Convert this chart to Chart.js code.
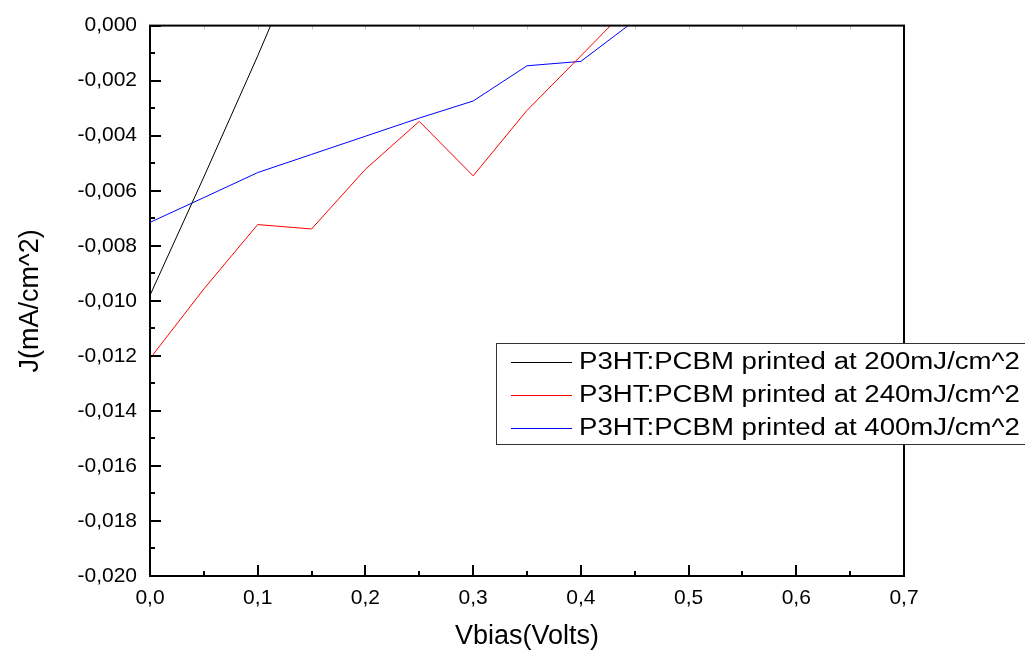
<!DOCTYPE html>
<html lang="en">
<head>
  <meta charset="UTF-8" />
  <title>J vs Vbias</title>
  <script src="https://cdn.jsdelivr.net/npm/chart.js"></script>
  <style>
    html, body { margin: 0; padding: 0; background: #fff; }
    #wrap { width: 1025px; height: 656px; }
  </style>
</head>
<body>
  <div id="wrap"><canvas id="jvChart" width="1025" height="656"></canvas></div>
  <script>
    // Data
    const vbias = [0, 0.05, 0.1, 0.15, 0.2, 0.25, 0.3, 0.35, 0.4, 0.45];
    const j200 = [-0.0098, -0.0055, -0.0011, 0.0035, null, null, null, null, null, null];
    const j240 = [-0.0121, -0.00957, -0.00723, -0.00739, -0.00522, -0.00348, -0.00546, -0.00308, -0.0011, 0.0009];
    const j400 = [-0.00715, -0.00625, -0.00534, -0.00468, -0.00402, -0.00336, -0.00274, -0.00146, -0.0013, 0.00018];
    const seriesNames = ['P3HT:PCBM printed at 200mJ/cm^2', 'P3HT:PCBM printed at 240mJ/cm^2', 'P3HT:PCBM printed at 400mJ/cm^2'];
    const seriesColors = ['#000000', '#ff0000', '#0000ff'];

    const toPoints = arr => vbias.map((v, i) => ({ x: v, y: arr[i] }));
    const isMult = (v, step) => Math.abs(Math.round(v / step) * step - v) < 1e-9;
    const fmt = (v, d) => (Math.abs(v) < 1e-12 ? 0 : v).toFixed(d).replace('.', ',');

    // frame, inward ticks and legend box
    const framePlugin = {
      id: 'frame',
      afterDraw(chart) {
        const ctx = chart.ctx, a = chart.chartArea;
        const xs = chart.scales.x, ys = chart.scales.y;
        ctx.save();
        // faint ticks along the top
        ctx.strokeStyle = '#c8c8c8'; ctx.lineWidth = 1;
        xs.ticks.forEach(t => {
          const px = Math.round(xs.getPixelForValue(t.value)) + 0.5;
          ctx.beginPath(); ctx.moveTo(px, a.top); ctx.lineTo(px, a.top + 4); ctx.stroke();
        });
        ctx.strokeStyle = '#000'; ctx.lineWidth = 2;
        xs.ticks.forEach(t => {
          const px = Math.round(xs.getPixelForValue(t.value));
          const len = isMult(t.value, 0.1) ? 11 : 5;
          ctx.beginPath(); ctx.moveTo(px, a.bottom); ctx.lineTo(px, a.bottom - len); ctx.stroke();
        });
        ys.ticks.forEach(t => {
          const py = Math.round(ys.getPixelForValue(t.value));
          const len = isMult(t.value, 0.002) ? 11 : 5;
          ctx.beginPath(); ctx.moveTo(a.left, py); ctx.lineTo(a.left + len, py); ctx.stroke();
        });
        ctx.strokeRect(a.left, a.top, a.right - a.left, a.bottom - a.top);

        // legend
        const lx = 496, ly = 343, lh = 101;
        ctx.fillStyle = '#fff';
        ctx.fillRect(lx, ly, 600, lh);
        ctx.strokeStyle = '#333'; ctx.lineWidth = 1;
        ctx.strokeRect(lx + 0.5, ly + 0.5, 600, lh);
        chart.data.datasets.forEach((ds, i) => {
          const y = 362 + i * 33;
          ctx.strokeStyle = ds.borderColor; ctx.lineWidth = 1;
          ctx.beginPath(); ctx.moveTo(511, y + 0.5); ctx.lineTo(572, y + 0.5); ctx.stroke();
          ctx.save();
          ctx.translate(579, y);
          ctx.scale(1.2, 1);
          ctx.fillStyle = '#000';
          ctx.font = '23px "Liberation Sans", Arial, sans-serif';
          ctx.textBaseline = 'middle';
          ctx.fillText(ds.label, 0, 1);
          ctx.restore();
        });
        ctx.restore();
      }
    };

    const datasets = [j200, j240, j400].map((arr, i) => ({
      label: seriesNames[i],
      data: toPoints(arr),
      borderColor: seriesColors[i],
      borderWidth: 1,
      pointRadius: 0,
      fill: false,
      tension: 0,
      spanGaps: false
    }));

    Chart.defaults.font.family = '"Liberation Sans", Arial, sans-serif';
    Chart.defaults.color = '#000';

    new Chart(document.getElementById('jvChart'), {
      type: 'line',
      data: { datasets },
      options: {
        responsive: false,
        animation: false,
        layout: { padding: { top: 22, right: 121, left: 0, bottom: 0 } },
        plugins: { legend: { display: false }, tooltip: { enabled: false } },
        scales: {
          x: {
            type: 'linear', min: 0, max: 0.7,
            afterFit: s => { s.height = 80; },
            grid: { display: false, drawTicks: false },
            border: { display: false },
            ticks: {
              stepSize: 0.05, padding: 10, maxRotation: 0, autoSkip: false,
              font: { size: 21 },
              callback: v => isMult(v, 0.1) ? fmt(v, 1) : ''
            },
            title: { display: true, text: 'Vbias(Volts)', font: { size: 27 }, padding: { top: 0, bottom: 3 } }
          },
          y: {
            type: 'linear', min: -0.02, max: 0,
            afterFit: s => { s.width = 150; },
            grid: { display: false, drawTicks: false },
            border: { display: false },
            ticks: {
              stepSize: 0.001, padding: 13, autoSkip: false,
              font: { size: 21 },
              callback: v => isMult(v, 0.002) ? fmt(v, 3) : ''
            },
            title: { display: true, text: 'J(mA/cm^2)', font: { size: 27 }, padding: { top: 14, bottom: 0 } }
          }
        }
      },
      plugins: [framePlugin]
    });
  </script>
</body>
</html>
